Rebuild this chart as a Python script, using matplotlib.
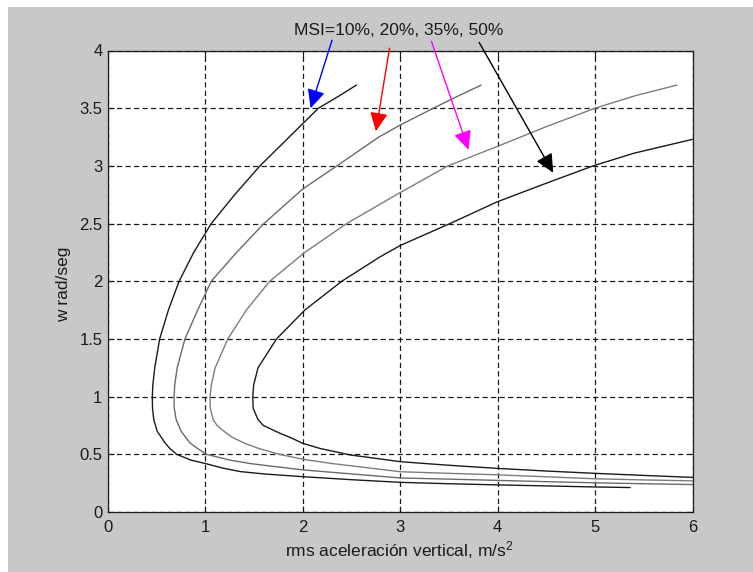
import matplotlib
matplotlib.use("Agg")
import matplotlib.pyplot as plt
from matplotlib.patches import Rectangle

plt.rcParams['font.family'] = ['Liberation Sans', 'DejaVu Sans']
plt.rcParams['mathtext.fontset'] = 'custom'
plt.rcParams['mathtext.rm'] = 'Liberation Sans'
plt.rcParams['mathtext.it'] = 'Liberation Sans'

# ---- data: rms acceleration (x) vs w (y) ----
msi_labels = ["10%", "20%", "35%", "50%"]

c1_w = [3.70, 3.60, 3.50, 3.25, 3.00, 2.75, 2.50, 2.25, 2.00, 1.75, 1.50, 1.25, 1.10, 1.00, 0.90, 0.80, 0.70, 0.60, 0.55, 0.50,
        0.45, 0.42, 0.38, 0.35, 0.33, 0.306, 0.28, 0.257, 0.245, 0.235, 0.226, 0.217, 0.212]
c1_x = [2.55, 2.36, 2.16, 1.86, 1.56, 1.30, 1.06, 0.88, 0.73, 0.62, 0.53, 0.48, 0.46, 0.455, 0.457, 0.47, 0.505, 0.585, 0.635, 0.705,
        0.85, 1.00, 1.18, 1.36, 1.60, 2.00, 2.50, 3.00, 3.50, 4.00, 4.50, 5.00, 5.36]

c2_w = [3.70, 3.60, 3.50, 3.354, 3.25, 3.00, 2.80, 2.50, 2.25, 2.00, 1.75, 1.50, 1.25, 1.10, 1.00, 0.90, 0.80, 0.70, 0.60,
        0.55, 0.50, 0.45, 0.42, 0.40, 0.365, 0.33, 0.295, 0.285, 0.274, 0.263, 0.253, 0.245, 0.238]
c2_x = [3.83, 3.58, 3.34, 3.00, 2.78, 2.35, 2.00, 1.60, 1.32, 1.06, 0.92, 0.79, 0.71, 0.685, 0.678, 0.68, 0.70, 0.75, 0.84,
        0.92, 1.01, 1.25, 1.46, 1.65, 2.00, 2.50, 3.00, 3.50, 4.00, 4.50, 5.00, 5.50, 6.00]

c3_w = [3.70, 3.61, 3.50, 3.34, 3.17, 3.00, 2.75, 2.50, 2.25, 2.00, 1.75, 1.50, 1.25, 1.10, 1.00, 0.90, 0.80, 0.75, 0.70, 0.65,
        0.60, 0.55, 0.50, 0.457, 0.42, 0.39, 0.349, 0.335, 0.322, 0.305, 0.288, 0.278, 0.27]
c3_x = [5.84, 5.42, 5.00, 4.50, 4.00, 3.49, 2.96, 2.45, 2.02, 1.66, 1.42, 1.23, 1.10, 1.06, 1.047, 1.05, 1.08, 1.12, 1.19, 1.27,
        1.39, 1.55, 1.76, 2.00, 2.30, 2.60, 3.00, 3.50, 4.00, 4.50, 5.00, 5.50, 6.00]

c4_w = [3.23, 3.11, 3.00, 2.85, 2.69, 2.50, 2.31, 2.21, 2.00, 1.75, 1.50, 1.25, 1.10, 1.00, 0.90, 0.80, 0.75, 0.70, 0.682, 0.65,
        0.595, 0.55, 0.494, 0.465, 0.436, 0.405, 0.378, 0.355, 0.335, 0.317, 0.30]
c4_x = [6.00, 5.40, 4.98, 4.50, 4.00, 3.51, 3.00, 2.79, 2.40, 2.02, 1.73, 1.54, 1.495, 1.486, 1.49, 1.54, 1.595, 1.72, 1.766, 1.86,
        2.00, 2.18, 2.49, 2.75, 3.00, 3.50, 4.00, 4.50, 5.00, 5.50, 6.00]

curves_x = [c1_x, c2_x, c3_x, c4_x]
curves_w = [c1_w, c2_w, c3_w, c4_w]
curve_colors = ['#1a1a1a', '#6a6a6a', '#7c7c7c', '#1a1a1a']

# arrows: start (near text) -> tip (on curve)
arrow_start_x = [2.30, 2.89, 3.32, 3.81]
arrow_start_w = [4.09, 4.02, 4.08, 4.07]
arrow_tip_x = [2.08, 2.75, 3.70, 4.57]
arrow_tip_w = [3.50, 3.30, 3.14, 2.94]
arrow_colors = ['#0000ff', '#ff0000', '#ff00ff', '#000000']

x_ticks = [0, 1, 2, 3, 4, 5, 6]
y_ticks = [0, 0.5, 1, 1.5, 2, 2.5, 3, 3.5, 4]
y_tick_labels = ["0", "0.5", "1", "1.5", "2", "2.5", "3", "3.5", "4"]

W, H = 753, 572
fig = plt.figure(figsize=(W / 100, H / 100), dpi=100, facecolor='white')
fig.patches.append(Rectangle((8 / W, 0), 1, 1 - 7 / H, transform=fig.transFigure,
                             facecolor='#c8c8c8', edgecolor='none', zorder=-10))

ax = fig.add_axes([108 / W, 1 - 512 / H, (692.5 - 108) / W, (512 - 50.5) / H])
ax.set_facecolor('white')

for xs, ws, col in zip(curves_x, curves_w, curve_colors):
    ax.plot(xs, ws, color=col, lw=1.0, solid_joinstyle='round', solid_capstyle='round')

ax.set_xlim(0, 6)
ax.set_ylim(0, 4)
ax.set_xticks(x_ticks)
ax.set_xticklabels([str(t) for t in x_ticks])
ax.set_yticks(y_ticks)
ax.set_yticklabels(y_tick_labels)
ax.tick_params(direction='in', length=4, width=0.8, top=True, right=True,
               labelsize=12, colors='#1a1a1a')
ax.tick_params(axis='x', pad=6)
ax.tick_params(axis='y', pad=4)
ax.grid(True, color='#1a1a1a', linestyle=(0, (4.2, 2.6)), linewidth=0.9)
for s in ax.spines.values():
    s.set_linewidth(0.9)
    s.set_color('#1a1a1a')

for sx, sw, tx, tw, col in zip(arrow_start_x, arrow_start_w, arrow_tip_x, arrow_tip_w, arrow_colors):
    ax.annotate('', xy=(tx, tw), xytext=(sx, sw), xycoords='data', textcoords='data',
                annotation_clip=False,
                arrowprops=dict(arrowstyle='-|>,head_length=0.95,head_width=0.45',
                                color=col, lw=1.0, shrinkA=0, shrinkB=0,
                                mutation_scale=12))

fig.text(398.5 / W, 1 - 30.5 / H, "MSI=" + ", ".join(msi_labels), ha='center', va='center',
         fontsize=12.5, color='#1a1a1a')
fig.text(399 / W, 1 - 550 / H, "rms aceleración vertical, m/s$^2$", ha='center', va='center',
         fontsize=12.5, color='#1a1a1a')
fig.text(64 / W, 1 - 284 / H, "w rad/seg", ha='center', va='center', rotation=90,
         fontsize=12.5, color='#1a1a1a')

fig.savefig('out.png', dpi=100, facecolor=fig.get_facecolor())
